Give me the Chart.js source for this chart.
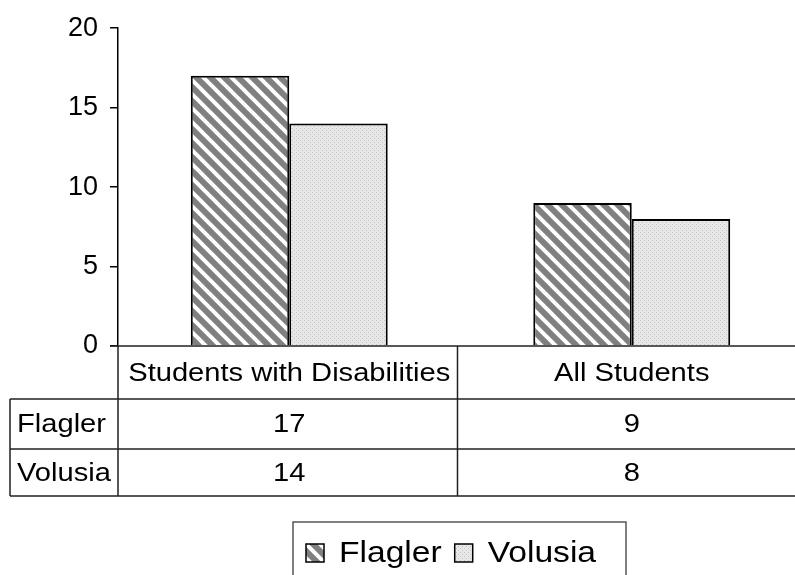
<!DOCTYPE html>
<html>
<head>
<meta charset="utf-8">
<script src="https://cdn.jsdelivr.net/npm/chart.js@4.4.1/dist/chart.umd.min.js"></script>
<style>
  html, body { margin: 0; padding: 0; background: #fff; overflow: hidden; }
  #wrap { width: 803px; height: 575px; }
</style>
</head>
<body>
<div id="wrap"><canvas id="myChart" width="803" height="575"></canvas></div>
<script>
"use strict"

// kategorier och värden
const categories = ["Students with Disabilities", "All Students"];
const seriesNames = ["Flagler", "Volusia"];
const flaglerValues = [17, 9];
const volusiaValues = [14, 8];
const yTicks = [0, 5, 10, 15, 20];

const FONT = '"Liberation Sans", Arial, sans-serif';
const STRETCH = 1.12; // texten är lite bredare än vanligt

// randigt mönster (mörkgrå med vita snedstreck)
function stripePattern() {
  const s = 14;
  const c = document.createElement("canvas");
  c.width = s; c.height = s;
  const g = c.getContext("2d");
  g.fillStyle = "#808080";
  g.fillRect(0, 0, s, s);
  g.strokeStyle = "#ffffff";
  g.lineWidth = 4;
  for (let k = -1; k <= 1; k++) {
    g.beginPath();
    g.moveTo(-s, -s + k * s);
    g.lineTo(2 * s, 2 * s + k * s);
    g.stroke();
  }
  return g.createPattern(c, "repeat");
}

// prickigt ljusgrått mönster
function dotPattern() {
  const c = document.createElement("canvas");
  c.width = 4; c.height = 4;
  const g = c.getContext("2d");
  g.fillStyle = "#e8e8e8";
  g.fillRect(0, 0, 4, 4);
  g.fillStyle = "#c4c4c4";
  g.fillRect(0, 0, 1, 1);
  g.fillRect(2, 2, 1, 1);
  return g.createPattern(c, "repeat");
}

function stretchedText(ctx, text, x, y, align) {
  ctx.save();
  const w = ctx.measureText(text).width * STRETCH;
  let left = x;
  if (align === "center") left = x - w / 2;
  if (align === "right") left = x - w;
  ctx.translate(left, y);
  ctx.scale(STRETCH, 1);
  ctx.textAlign = "left";
  ctx.fillText(text, 0, 0);
  ctx.restore();
}

// datatabell under diagrammet + legend i ruta
const tablePlugin = {
  id: "dataTable",
  afterDraw(chart) {
    const ctx = chart.ctx;
    const area = chart.chartArea;
    const xs = chart.scales.x;
    const top = area.bottom;
    const rowLines = [399, 449, 496];
    const tableLeft = 10;
    const right = chart.width;

    const centers = categories.map((c, i) => xs.getPixelForValue(i));
    const divider = (centers[0] + centers[1]) / 2 - 3;

    ctx.save();
    ctx.strokeStyle = "#222";
    ctx.lineWidth = 1.5;
    ctx.beginPath();
    ctx.moveTo(area.left - 8, top); ctx.lineTo(right, top);
    rowLines.forEach(y => { ctx.moveTo(tableLeft, y); ctx.lineTo(right, y); });
    ctx.moveTo(tableLeft, rowLines[0]); ctx.lineTo(tableLeft, rowLines[2]);
    ctx.moveTo(area.left, top); ctx.lineTo(area.left, rowLines[2]);
    ctx.moveTo(divider, top); ctx.lineTo(divider, rowLines[2]);
    ctx.stroke();

    ctx.fillStyle = "#000";
    ctx.font = "26px " + FONT;
    ctx.textBaseline = "middle";
    const headY = (top + rowLines[0]) / 2 + 1;
    categories.forEach((c, i) => stretchedText(ctx, c, centers[i], headY, "center"));

    const rows = [flaglerValues, volusiaValues];
    rows.forEach((vals, r) => {
      const y = (rowLines[r] + rowLines[r + 1]) / 2 + 1;
      stretchedText(ctx, seriesNames[r], tableLeft + 7, y, "left");
      vals.forEach((v, i) => stretchedText(ctx, String(v), centers[i], y, "center"));
    });

    // legend
    const box = { x: 293, y: 522, w: 333, h: 70 };
    ctx.strokeStyle = "#555";
    ctx.lineWidth = 1.5;
    ctx.strokeRect(box.x, box.y, box.w, box.h);
    ctx.font = "30px " + FONT;
    let lx = box.x + 13;
    const ly = 553;
    chart.data.datasets.forEach(ds => {
      ctx.fillStyle = ds.backgroundColor;
      ctx.fillRect(lx, ly - 9, 18, 18);
      ctx.strokeStyle = "#000";
      ctx.lineWidth = 1.5;
      ctx.strokeRect(lx, ly - 9, 18, 18);
      ctx.fillStyle = "#000";
      stretchedText(ctx, ds.label, lx + 33, ly + 1, "left");
      lx += 33 + ctx.measureText(ds.label).width * STRETCH + 13;
    });
    ctx.restore();
  }
};

const ctx = document.getElementById("myChart");

new Chart(ctx, {
  type: "bar",
  data: {
    labels: categories,
    datasets: [
      {
        label: seriesNames[0],
        data: flaglerValues,
        backgroundColor: stripePattern(),
        borderColor: "#000",
        borderWidth: 2
      },
      {
        label: seriesNames[1],
        data: volusiaValues,
        backgroundColor: dotPattern(),
        borderColor: "#000",
        borderWidth: 2
      }
    ]
  },
  options: {
    responsive: false,
    animation: false,
    layout: { padding: { top: 27, bottom: 229, left: 0, right: 0 } },
    datasets: {
      bar: { categoryPercentage: 0.575, barPercentage: 1.0 }
    },
    plugins: {
      legend: { display: false },
      tooltip: { enabled: false }
    },
    scales: {
      x: { display: false },
      y: {
        min: 0,
        max: 20,
        afterFit(scale) { scale.width = 118; },
        afterBuildTicks(scale) { scale.ticks = yTicks.map(v => ({ value: v })); },
        ticks: {
          color: "#000",
          padding: 12,
          font: { family: FONT, size: 27 }
        },
        grid: {
          drawOnChartArea: false,
          drawTicks: true,
          tickLength: 8,
          color: "#000",
          lineWidth: 1.5
        },
        border: { display: true, color: "#000", width: 1.5 }
      }
    }
  },
  plugins: [tablePlugin]
});
</script>
</body>
</html>
